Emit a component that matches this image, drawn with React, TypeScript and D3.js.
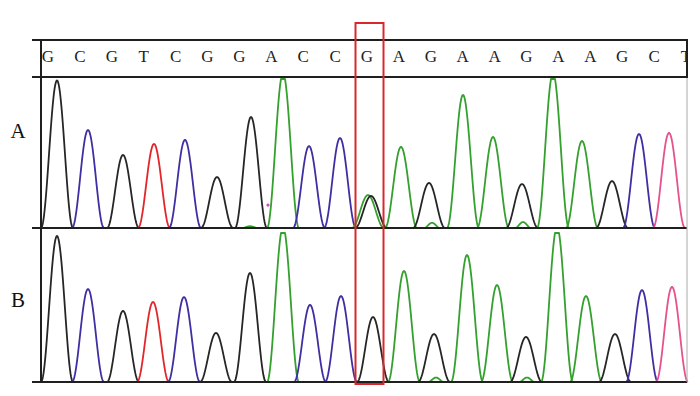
import React from 'react';
import * as d3 from 'd3';

// Base calls shown in the header row
const bases = ['G','C','G','T','C','G','G','A','C','C','G','A','G','A','A','G','A','A','G','C','T'];

// Panel A peaks (scan position, channel, signal)
const scansA = [16,47,82,113,144,176,210,242,268,299,327,330,360,388,422,452,481,512,541,571,598,628];
const channelsA = ['G','C','G','T','C','G','G','A','C','C','A','G','A','G','A','A','G','A','A','G','C','t'];
const heightsA = [990,658,490,564,591,342,745,1040,550,604,221,215,544,302,893,611,295,1040,584,315,631,638];
// Minor peaks in panel A
const minorScansA = [209,391,482];
const minorChannelsA = ['A','A','A'];
const minorHeightsA = [12,35,40];

// Panel B peaks
const scansB = [16,47,82,112,143,175,209,242,269,300,332,363,393,426,456,485,516,545,574,601,631];
const channelsB = ['G','C','G','T','C','G','G','A','C','C','G','A','G','A','A','G','A','A','G','C','t'];
const heightsB = [980,624,477,537,570,329,732,1040,517,577,436,745,322,852,651,302,1040,577,322,617,638];
const minorScansB = [395,486];
const minorChannelsB = ['A','A'];
const minorHeightsB = [30,30];

const panelLabels = ['A','B'];
const highlightIndex = 10;

const channelColor: Record<string, string> = {
  G: '#262626',
  C: '#3e2fa2',
  T: '#e2262a',
  A: '#34a02e',
  t: '#e5528e',
};

const W = 700, H = 396;
const xScale = d3.scaleLinear().domain([0, 646]).range([41, 687]);
const letterScale = d3.scalePoint<number>().domain(d3.range(bases.length)).range([48, 686]);
const yA = d3.scaleLinear().domain([0, 1000]).range([228, 79]).clamp(true);
const yB = d3.scaleLinear().domain([0, 1000]).range([382, 233]).clamp(true);
const HALF = 16;

function peakPath(scan: number, h: number, y: d3.ScaleLinear<number, number>, half = HALF) {
  const pts = d3.range(-half, half + 0.01, 0.5).map((d) => {
    const c = Math.cos((Math.PI * d) / (2 * half));
    return [xScale(scan + d), y(h * c * c)] as [number, number];
  });
  return d3.line().curve(d3.curveLinear)(pts) || '';
}

function Panel({ scans, chans, heights, mScans, mChans, mHeights, y }: any) {
  return (
    <g>
      {mScans.map((s: number, i: number) => (
        <path key={'m' + i} d={peakPath(s, mHeights[i], y, 8)} fill="none" stroke={channelColor[mChans[i]]} strokeWidth={1.8} />
      ))}
      {scans.map((s: number, i: number) => (
        <path key={i} d={peakPath(s, heights[i], y)} fill="none" stroke={channelColor[chans[i]]} strokeWidth={1.8} strokeLinejoin="round" />
      ))}
    </g>
  );
}

export default function App() {
  const frame = '#1f1f1f';
  const hx = xScale((scansA[highlightIndex] + scansA[highlightIndex + 1]) / 2);
  return (
    <div style={{ position: 'absolute', left: 0, top: 0 }}>
      <svg width={W} height={H} style={{ display: 'block', background: '#fff' }}>
        <defs>
          <clipPath id="hdr"><rect x={41} y={40} width={645} height={37} /></clipPath>
        </defs>
        <g clipPath="url(#hdr)">
          {bases.map((b, i) => (
            <text key={i} x={letterScale(i)} y={62} textAnchor="middle" fontFamily="'Liberation Serif', serif" fontSize={17} fill="#222">{b}</text>
          ))}
        </g>
        <Panel scans={scansA} chans={channelsA} heights={heightsA} mScans={minorScansA} mChans={minorChannelsA} mHeights={minorHeightsA} y={yA} />
        <Panel scans={scansB} chans={channelsB} heights={heightsB} mScans={minorScansB} mChans={minorChannelsB} mHeights={minorHeightsB} y={yB} />
        <circle cx={xScale(227)} cy={yA(154)} r={1.6} fill="#d04ac0" />
        {/* frame */}
        <line x1={32} x2={687} y1={40} y2={40} stroke={frame} strokeWidth={2} />
        <line x1={32} x2={687} y1={77} y2={77} stroke={frame} strokeWidth={2} />
        <line x1={32} x2={687} y1={228} y2={228} stroke={frame} strokeWidth={2} />
        <line x1={32} x2={687} y1={382} y2={382} stroke={frame} strokeWidth={2} />
        <line x1={41} x2={41} y1={39} y2={383} stroke={frame} strokeWidth={2} />
        <line x1={687} x2={687} y1={39} y2={78} stroke={frame} strokeWidth={2} />
        <line x1={687} x2={687} y1={78} y2={382} stroke="#aaa" strokeWidth={1} />
        {panelLabels.map((l, i) => (
          <text key={l} x={18} y={i === 0 ? 138 : 307} textAnchor="middle" fontFamily="'Liberation Serif', serif" fontSize={21} fill="#111">{l}</text>
        ))}
        <rect x={hx - 14} y={23} width={28} height={361} fill="none" stroke="#d8282c" strokeWidth={2} />
      </svg>
    </div>
  );
}
